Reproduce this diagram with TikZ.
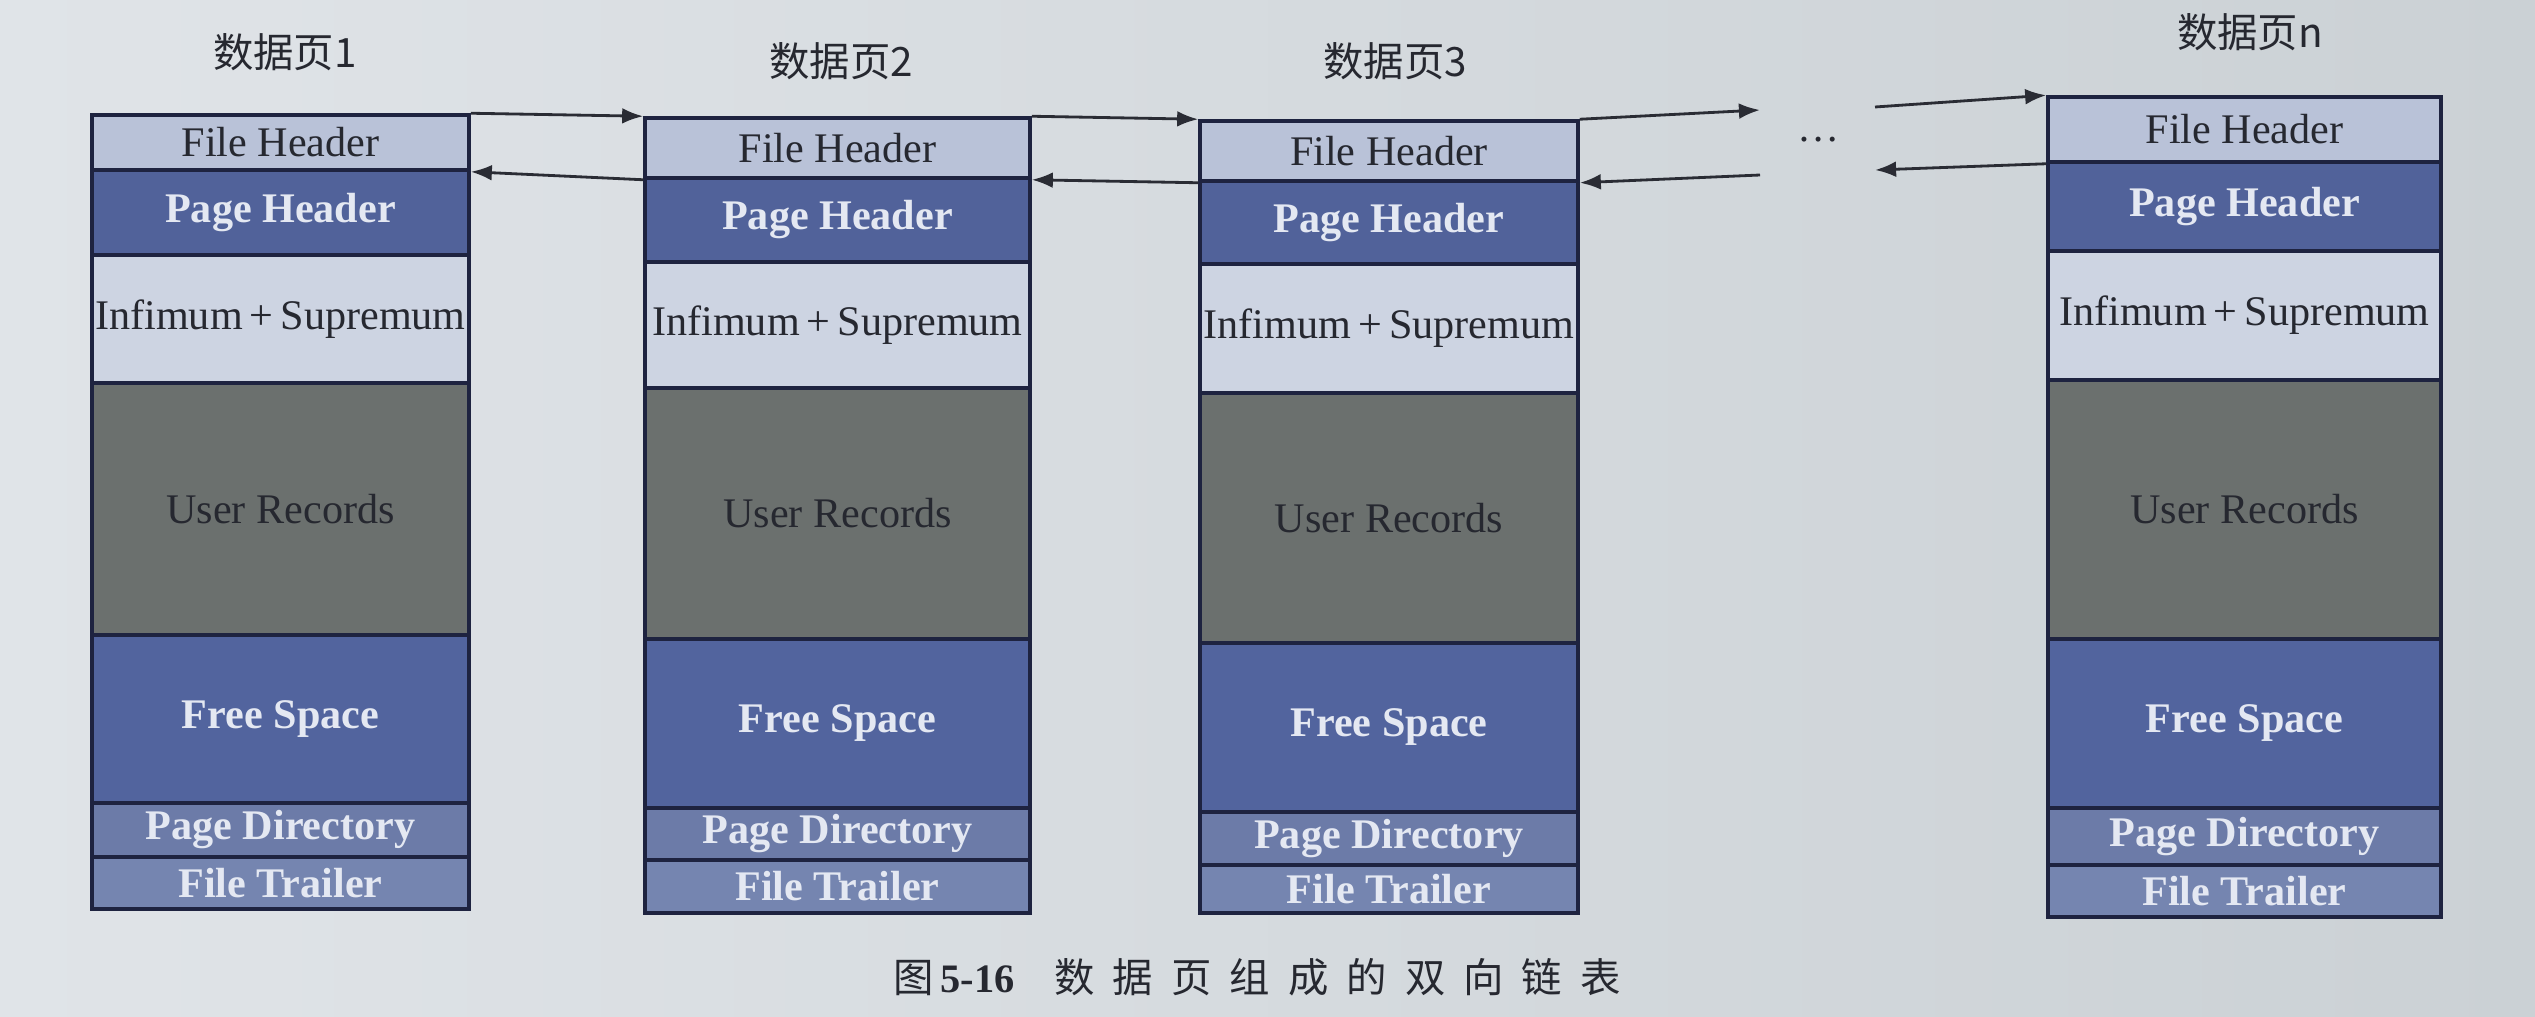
\documentclass[tikz,border=0pt]{standalone}
\usepackage{fontspec}
\setmainfont{Liberation Serif}
\newfontfamily\cjk{Noto Sans CJK SC}
\usetikzlibrary{arrows.meta}

% palette
\definecolor{bgl}{HTML}{E0E4E8}
\definecolor{bgr}{HTML}{CBD1D5}
\definecolor{fhc}{HTML}{B9C2D8}
\definecolor{phc}{HTML}{51629A}
\definecolor{imc}{HTML}{CDD4E2}
\definecolor{urc}{HTML}{6B706E}
\definecolor{fsc}{HTML}{52649E}
\definecolor{pdc}{HTML}{6C7BA8}
\definecolor{ftc}{HTML}{7585B0}
\definecolor{edge}{HTML}{1E2340}
\definecolor{lighttext}{HTML}{E4E8F2}
\definecolor{darktext}{HTML}{262830}
\definecolor{linkc}{HTML}{2A2C34}

\newcommand\cgap{\hspace{0.36cm}}

\tikzset{
  sect/.style n args={4}{
    rectangle, draw=edge, line width=2pt, inner sep=0pt,
    minimum width={(#2-#1)*0.02cm}, minimum height={(#4-#3)*0.02cm},
    at={({(#1+#2)/2},{(#3+#4)/2})},
    font=\fontsize{24}{28}\selectfont},
  lightsec/.style={text=darktext},
  darksec/.style={text=lighttext, font=\fontsize{24}{28}\selectfont\bfseries},
  title/.style={font=\cjk\fontsize{23}{27}\selectfont, text=darktext},
  link/.style={line width=1.6pt, draw=linkc, -{Latex[length=12pt,width=9pt]}}
}

\begin{document}
\begin{tikzpicture}[x=0.02cm, y=-0.02cm]
  % paper
  \shade[left color=bgl, right color=bgr] (0,0) rectangle (2535,1017);
  \useasboundingbox (0,0) rectangle (2535,1017);

  % the four data pages, each split into its seven parts
  \foreach \id/\xl/\xr/\ya/\yb/\yc/\yd/\ye/\yf/\yg/\yh in {
      p1/92/469/115/170/255/383/635/803/857/909,
      p2/645/1030/118/178/262/388/639/808/860/913,
      p3/1200/1578/121/181/264/393/643/812/865/913,
      p4/2048/2441/97/162/251/380/639/808/865/917} {
    \node[sect={\xl}{\xr}{\ya}{\yb}, fill=fhc, lightsec] (\id-fh) {File Header};
    \node[sect={\xl}{\xr}{\yb}{\yc}, fill=phc, darksec] (\id-ph) {Page Header};
    \node[sect={\xl}{\xr}{\yc}{\yd}, fill=imc, lightsec] (\id-im) {Infimum\,+\,Supremum};
    \node[sect={\xl}{\xr}{\yd}{\ye}, fill=urc, text=darktext] (\id-ur) {User Records};
    \node[sect={\xl}{\xr}{\ye}{\yf}, fill=fsc, darksec] (\id-fs) {Free Space};
    \node[sect={\xl}{\xr}{\yf}{\yg}, fill=pdc, darksec] (\id-pd) {Page Directory};
    \node[sect={\xl}{\xr}{\yg}{\yh}, fill=ftc, darksec] (\id-ft) {File Trailer};
  }

  % page titles
  \node[title] (t1) at (285,52) {数据页1};
  \node[title] (t2) at (841,61) {数据页2};
  \node[title] (t3) at (1395,61) {数据页3};
  \node[title] (t4) at (2250,32) {数据页n};

  % pages left out between page 3 and page n
  \node[font=\fontsize{24}{28}\selectfont, text=darktext] (dots) at (1819,140) {\ldots};
  \coordinate (g1) at (1760,110);
  \coordinate (g2) at (1760,175);
  \coordinate (g3) at (1875,107);
  \coordinate (g4) at (1875,170);

  % next-page pointers
  \draw[link] (p1-fh.north east) -- (p2-fh.north west);
  \draw[link] (p2-fh.north east) -- (p3-fh.north west);
  \draw[link] (p3-fh.north east) -- (g1);
  \draw[link] (g3) -- (p4-fh.north west);

  % previous-page pointers
  \draw[link] (p2-fh.south west) -- (p1-fh.south east);
  \draw[link] (p3-fh.south west) -- (p2-fh.south east);
  \draw[link] (g2) -- (p3-fh.south east);
  \draw[link] (p4-fh.south west) -- (g4);

  % caption
  \node[font=\cjk\fontsize{23}{27}\selectfont, text=darktext] (cap) at (1257,977)
    {图\,{\rmfamily\bfseries 5-16}\hspace{0.8cm}数\cgap 据\cgap 页\cgap 组\cgap 成\cgap 的\cgap 双\cgap 向\cgap 链\cgap 表};
\end{tikzpicture}
\end{document}
